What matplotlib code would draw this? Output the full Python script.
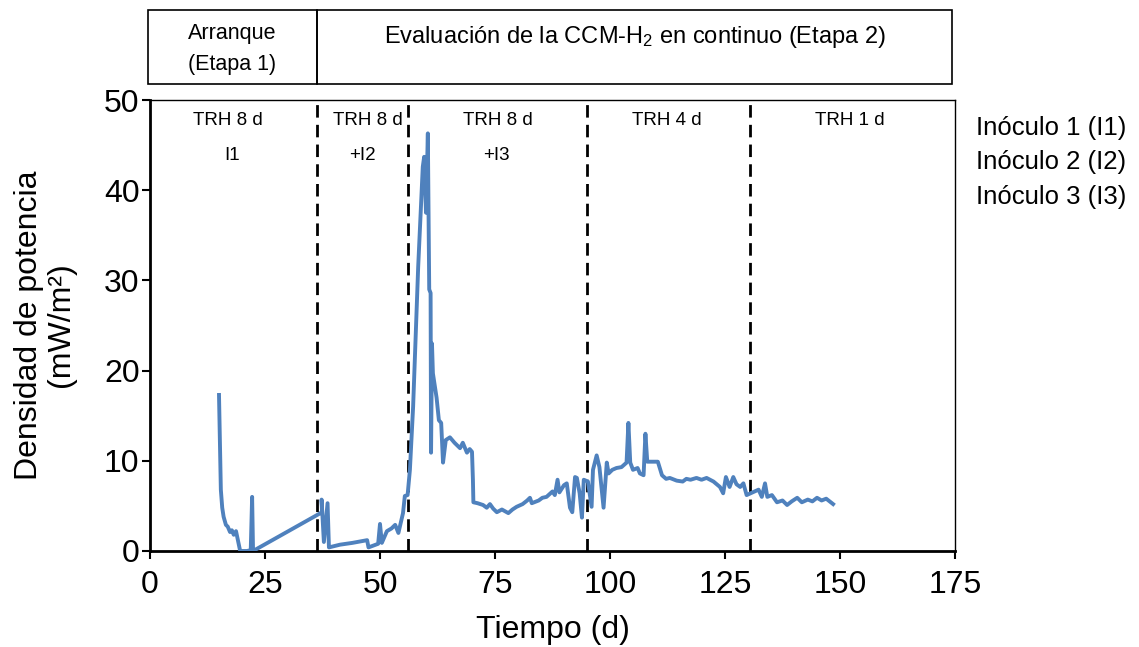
import matplotlib
matplotlib.use("Agg")
import matplotlib.pyplot as plt
from matplotlib.patches import Rectangle

plt.rcParams['font.family'] = ['Liberation Sans', 'DejaVu Sans']
plt.rcParams['mathtext.fontset'] = 'custom'
plt.rcParams['mathtext.rm'] = 'Liberation Sans'
plt.rcParams['mathtext.default'] = 'regular'

# ---- data ----
tiempo = [15.0, 15.2, 15.4, 15.7, 16.0, 16.5, 16.9, 17.4, 17.8, 18.2, 18.7, 19.1, 19.6, 20.5, 21.1, 21.9,
          22.2, 22.4, 37.4, 37.3, 37.8, 38.6, 38.9, 41.3, 44.0, 47.2, 47.5, 49.6, 50.0, 50.4, 51.5, 52.5,
          53.3, 54.0, 55.0, 55.4, 56.0, 56.5, 57.2, 58.3, 59.3, 59.6, 60.0, 60.4, 60.7, 61.0, 61.1, 61.3,
          61.5, 62.3, 62.8, 63.3, 63.7, 64.3, 65.2, 66.2, 67.4, 68.0, 68.9, 69.5, 70.0, 70.2, 70.3, 71.2,
          72.4, 73.2, 73.9, 74.6, 75.4, 76.5, 77.9, 78.8, 79.7, 81.0, 82.0, 82.6, 83.0, 84.5, 85.3, 86.2,
          87.5, 88.0, 88.6, 89.0, 90.0, 90.6,
          91.3, 91.8, 92.4, 92.8, 93.4, 93.9, 94.3, 95.2, 96.0, 96.3, 97.1, 97.7, 98.6, 99.3, 99.7, 100.5,
          101.4, 102.5, 103.6, 104.0, 104.4, 105.0, 106.0, 106.5, 107.3, 107.7, 108.1, 110.4, 111.3, 112.2,
          113.0, 114.5, 115.8, 116.6, 117.5, 118.8, 119.9, 121.0, 122.5, 123.2, 123.9, 124.6, 125.2, 126.0,
          126.8, 127.5, 128.3, 129.0, 129.7,
          131.0, 132.3, 133.0, 133.7, 134.2, 135.2, 136.3, 137.5, 138.5, 139.5, 140.7, 141.7, 143.0, 144.0,
          145.0, 146.0, 147.0, 148.5]
densidad = [17.3, 12.3, 6.8, 4.8, 3.8, 2.9, 2.7, 2.1, 2.3, 1.8, 2.2, 1.2, 0.0, 0.0, 0.0, 0.1,
            6.0, 0.0, 4.3, 5.7, 1.0, 5.3, 0.4, 0.7, 0.9, 1.2, 0.4, 0.8, 3.0, 0.9, 2.2, 2.5,
            2.9, 2.0, 4.2, 6.1, 6.2, 9.0, 16.0, 31.5, 42.6, 43.7, 37.5, 46.3, 29.0, 28.6, 10.9, 23.0,
            19.7, 17.0, 14.5, 14.2, 9.8, 12.3, 12.6, 12.0, 11.4, 12.0, 10.9, 11.3, 11.0, 7.9, 5.4, 5.3,
            5.1, 4.8, 5.2, 4.7, 4.3, 4.6, 4.2, 4.6, 4.9, 5.2, 5.6, 5.9, 5.3, 5.6, 5.9, 6.0,
            6.6, 6.2, 7.9, 6.5, 7.3, 7.5,
            4.8, 4.3, 8.2, 8.1, 6.4, 3.7, 7.9, 7.7, 4.9, 9.0, 10.6, 9.3, 4.8, 9.8, 8.6, 9.0,
            9.2, 9.3, 9.8, 14.2, 9.8, 9.0, 9.2, 8.6, 8.4, 13.0, 9.9, 9.9, 8.4, 8.0,
            8.1, 7.8, 7.7, 8.0, 7.9, 8.1, 7.9, 8.1, 7.7, 7.4, 7.1, 6.4, 8.2, 7.1,
            8.2, 7.4, 7.1, 7.5, 6.2,
            6.5, 6.8, 6.0, 7.5, 6.0, 6.2, 5.4, 5.6, 5.1, 5.5, 5.9, 5.4, 5.7, 5.5,
            5.9, 5.6, 5.8, 5.2]

divisiones = [36.3, 56.1, 95.0, 130.4]
etiquetas_trh = ["TRH 8 d", "TRH 8 d", "TRH 8 d", "TRH 4 d", "TRH 1 d"]
pos_trh = [17.0, 47.4, 75.7, 112.4, 152.2]
etiquetas_inoc = ["I1", "+I2", "+I3"]
pos_inoc = [17.8, 46.1, 75.4]
xticks = [0, 25, 50, 75, 100, 125, 150, 175]
yticks = [0, 10, 20, 30, 40, 50]
leyenda_inoc = ["Inóculo 1 (I1)", "Inóculo 2 (I2)", "Inóculo 3 (I3)"]

W, H = 1139, 647
fig = plt.figure(figsize=(W / 100, H / 100), dpi=100)
ax = fig.add_axes([150 / W, 1 - 551 / H, 805 / W, 451 / H])

ax.plot(tiempo, densidad, color='#4F81BD', lw=2.8, solid_joinstyle='round', zorder=3)
for d in divisiones:
    ax.plot([d, d], [0, 50], color='black', lw=2.0, linestyle=(0, (4.5, 2.6)), zorder=2)

ax.set_xlim(0, 175)
ax.set_ylim(0, 50)
ax.set_xticks(xticks)
ax.set_yticks(yticks)
ax.tick_params(axis='both', labelsize=23, direction='out', length=6, width=1.5, color='black')
ax.tick_params(axis='x', pad=8)
ax.tick_params(axis='y', pad=1.5)
for s in ['left', 'bottom']:
    ax.spines[s].set_linewidth(2.0)
for s in ['top', 'right']:
    ax.spines[s].set_linewidth(1.0)

def fx(px):
    return px / W

def fy(py):
    return 1 - py / H

fig.text(fx(553), fy(630), "Tiempo (d)", ha='center', va='center', fontsize=23)
fig.text(fx(45), fy(325), "Densidad de potencia\n(mW/m²)", ha='center', va='center',
         rotation=90, fontsize=23, linespacing=1.05)

for lab, x in zip(etiquetas_trh, pos_trh):
    ax.text(x, 47.7, lab, ha='center', va='center', fontsize=13.5)
for lab, x in zip(etiquetas_inoc, pos_inoc):
    ax.text(x, 43.9, lab, ha='center', va='center', fontsize=13.5)

# header boxes
fig.patches.append(Rectangle((fx(148), fy(84)), fx(317) - fx(148), fy(10) - fy(84),
                             transform=fig.transFigure, fill=False, lw=1.2, ec='black'))
fig.patches.append(Rectangle((fx(317), fy(84)), fx(952) - fx(317), fy(10) - fy(84),
                             transform=fig.transFigure, fill=False, lw=1.2, ec='black'))
fig.text(fx(232), fy(49), "Arranque\n(Etapa 1)", ha='center', va='center', fontsize=15.5, linespacing=1.6)
fig.text(fx(635), fy(37), "Evaluación de la CCM-H$_2$ en continuo (Etapa 2)", ha='center', va='center', fontsize=17)

for lab, py in zip(leyenda_inoc, [128, 162, 197]):
    fig.text(fx(976), fy(py), lab, ha='left', va='center', fontsize=18.5)

fig.savefig("out.png", dpi=100)
